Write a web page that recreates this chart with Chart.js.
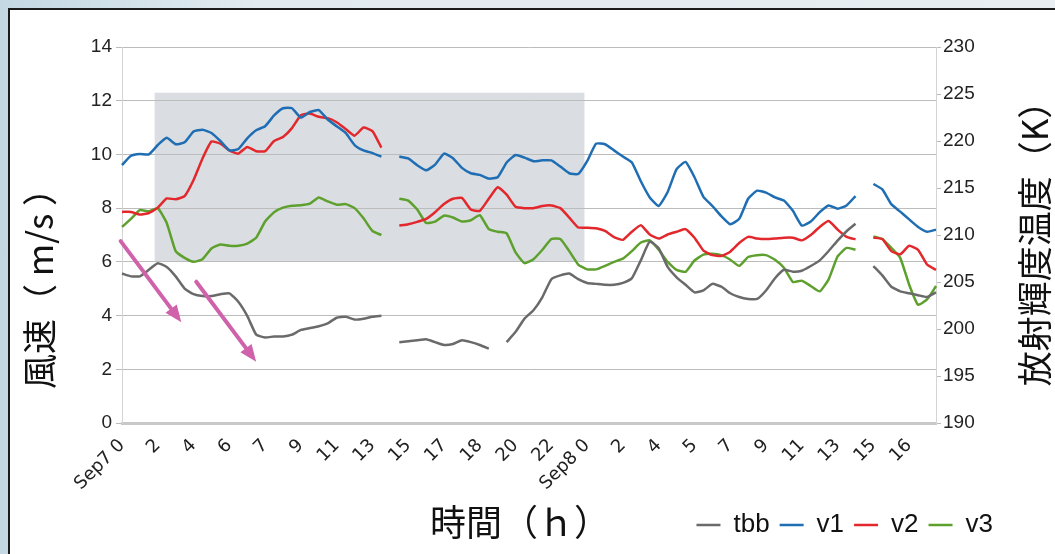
<!DOCTYPE html>
<html>
<head>
<meta charset="utf-8">
<script src="https://cdn.jsdelivr.net/npm/chart.js@4.4.1/dist/chart.umd.min.js"></script>
<style>
  html, body { margin: 0; padding: 0; }
  body {
    width: 1055px; height: 554px; overflow: hidden; position: relative;
    background: linear-gradient(to right, #c4d8e3 0%, #e2ebf0 25%, #e8eef2 100%);
  }
  #frame {
    position: absolute; left: 8px; top: 8px; width: 1100px; height: 600px;
    border: 2px solid #1c1c1c; background: #fff;
  }
  #chart { position: absolute; left: 0; top: 0; }
</style>
</head>
<body>
<div id="frame"></div>
<canvas id="chart" width="1055" height="554"></canvas>
<script>
// x axis: one tick label every 4 samples
const tickLabels = ['Sep7 0', '2', '4', '6', '7', '9', '11', '13', '15', '17', '18', '20', '22',
                    'Sep8 0', '2', '4', '5', '7', '9', '11', '13', '15', '16'];
const pointsPerTick = 4;

// 放射輝度温度 (K), right axis
const tbb = [205.9, 205.6, 205.6, 206.3, 207.0, 206.6, 205.6, 204.3, 203.7, 203.5,
             203.5, 203.7, 203.8, 202.9, 201.4, 199.4, 199.1, 199.2, 199.2, 199.4,
             199.9, 200.1, 200.3, 200.6, 201.2, 201.3, 201.0, 201.1, 201.3, 201.4,
             null, 198.6, 198.7, 198.8, 198.9, 198.6, 198.3, 198.4, 198.8, 198.6,
             198.3, 197.9, null, 198.6, 199.7, 201.1, 202.0, 203.4, 205.3, 205.7,
             205.9, 205.3, 204.9, 204.8, 204.7, 204.7, 204.9, 205.4, 207.3, 209.3,
             208.6, 206.6, 205.5, 204.7, 203.9, 204.1, 204.8, 204.5, 203.8, 203.4,
             203.2, 203.2, 204.1, 205.4, 206.3, 206.1, 206.2, 206.7, 207.3, 208.3,
             209.4, 210.4, 211.2, null, 206.7, 205.7, 204.5, 204.0, 203.8, 203.6,
             203.4, 203.9];

// 風速 (m/s), left axis
const v1 = [9.6, 9.95, 10.02, 10.0, 10.35, 10.62, 10.38, 10.45, 10.85, 10.92,
            10.8, 10.5, 10.15, 10.2, 10.6, 10.9, 11.05, 11.45, 11.72, 11.72,
            11.37, 11.58, 11.65, 11.3, 11.05, 10.8, 10.35, 10.15, 10.05, 9.92,
            null, 9.92, 9.85, 9.6, 9.41, 9.62, 10.03, 9.86, 9.5, 9.3,
            9.24, 9.1, 9.15, 9.7, 9.98, 9.88, 9.75, 9.78, 9.78, 9.55,
            9.3, 9.27, 9.75, 10.4, 10.38, 10.15, 9.92, 9.7, 9.0, 8.4,
            8.08, 8.6, 9.45, 9.72, 9.15, 8.42, 8.08, 7.7, 7.4, 7.6,
            8.35, 8.65, 8.58, 8.4, 8.28, 7.9, 7.35, 7.5, 7.85, 8.1,
            7.98, 8.1, 8.45, null, 8.9, 8.7, 8.15, 7.87, 7.58, 7.3,
            7.12, 7.2];

const v2 = [7.86, 7.86, 7.76, 7.82, 8.02, 8.36, 8.33, 8.45, 9.05, 9.85,
            10.48, 10.4, 10.15, 10.03, 10.28, 10.12, 10.12, 10.5, 10.65, 10.98,
            11.46, 11.52, 11.4, 11.35, 11.2, 10.95, 10.7, 11.0, 10.87, 10.25,
            null, 7.35, 7.4, 7.49, 7.6, 7.85, 8.15, 8.35, 8.38, 7.95,
            7.9, 8.35, 8.78, 8.5, 8.05, 8.0, 8.0, 8.08, 8.1, 8.0,
            7.65, 7.28, 7.27, 7.25, 7.15, 6.92, 6.82, 7.12, 7.36, 7.02,
            6.87, 7.02, 7.12, 7.22, 6.9, 6.42, 6.25, 6.22, 6.38, 6.7,
            6.93, 6.87, 6.85, 6.87, 6.9, 6.9, 6.8, 7.0, 7.3, 7.52,
            7.2, 6.93, 6.84, null, 6.9, 6.85, 6.4, 6.28, 6.6, 6.45,
            5.9, 5.7];

const v3 = [7.3, 7.6, 7.93, 7.88, 8.0, 7.45, 6.4, 6.15, 6.0, 6.1,
            6.5, 6.65, 6.6, 6.6, 6.68, 6.9, 7.5, 7.85, 8.02, 8.09,
            8.11, 8.17, 8.4, 8.25, 8.13, 8.15, 8.0, 7.62, 7.15, 7.0,
            null, 8.35, 8.28, 7.95, 7.45, 7.5, 7.72, 7.65, 7.5, 7.55,
            7.74, 7.22, 7.12, 7.06, 6.35, 5.95, 6.1, 6.45, 6.85, 6.85,
            6.4, 5.9, 5.72, 5.72, 5.85, 6.0, 6.12, 6.4, 6.72, 6.8,
            6.45, 6.0, 5.7, 5.63, 6.05, 6.27, 6.3, 6.25, 6.08, 5.85,
            6.18, 6.25, 6.25, 6.08, 5.78, 5.25, 5.3, 5.1, 4.9, 5.35,
            6.2, 6.52, 6.45, null, 6.95, 6.85, 6.52, 6.15, 5.15, 4.4,
            4.6, 5.1];

// shaded period and the two arrows, in data units (sample index, m/s)
const shadeX = [3.65, 51.7];
const shadeY = [6, 12.3];
const arrowFrom = [[-0.15, 6.77], [8.3, 5.26]];
const arrowTo = [[6.63, 3.75], [15.0, 2.28]];

const labels = tbb.map((_, i) => String(i));

function drawArrow(ctx, x1, y1, x2, y2) {
    const ang = Math.atan2(y2 - y1, x2 - x1);
    const head = 17, half = 7;
    const bx = x2 - head * Math.cos(ang);
    const by = y2 - head * Math.sin(ang);
    ctx.beginPath();
    ctx.moveTo(x1, y1);
    ctx.lineTo(bx, by);
    ctx.stroke();
    ctx.beginPath();
    ctx.moveTo(x2, y2);
    ctx.lineTo(bx + half * Math.sin(ang), by - half * Math.cos(ang));
    ctx.lineTo(bx - half * Math.sin(ang), by + half * Math.cos(ang));
    ctx.closePath();
    ctx.fill();
}

function drawRotated(ctx, text, x, y, angle, font) {
    ctx.save();
    ctx.translate(x, y);
    ctx.rotate(angle);
    ctx.font = font;
    ctx.fillStyle = '#111';
    ctx.textAlign = 'center';
    ctx.textBaseline = 'middle';
    ctx.fillText(text, 0, 0);
    ctx.restore();
}

const overlay = {
    id: 'overlay',
    beforeDraw(chart) {
        const { ctx, scales: { x, y } } = chart;
        const l = x.getPixelForValue(shadeX[0]), r = x.getPixelForValue(shadeX[1]);
        const t = y.getPixelForValue(shadeY[1]), b = y.getPixelForValue(shadeY[0]);
        ctx.save();
        ctx.fillStyle = '#dadee2';
        ctx.fillRect(l, t, r - l, b - t);
        ctx.restore();
    },
    afterDatasetsDraw(chart) {
        const { ctx, scales: { x, y } } = chart;
        ctx.save();
        ctx.strokeStyle = '#cf62ab';
        ctx.fillStyle = '#cf62ab';
        ctx.lineWidth = 4;
        ctx.lineCap = 'round';
        arrowFrom.forEach((p, k) => {
            drawArrow(ctx, x.getPixelForValue(p[0]), y.getPixelForValue(p[1]),
                      x.getPixelForValue(arrowTo[k][0]), y.getPixelForValue(arrowTo[k][1]));
        });
        ctx.restore();
    },
    afterDraw(chart) {
        const ctx = chart.ctx;
        const area = chart.chartArea;
        const cjk = '"Noto Sans CJK JP", sans-serif';
        drawRotated(ctx, '風速（ m/s ）', 40, 280, -Math.PI / 2, '35px ' + cjk);
        drawRotated(ctx, '放射輝度温度（K）', 1035, (area.top + area.bottom) / 2, -Math.PI / 2, '35px ' + cjk);
        drawRotated(ctx, '時間（ｈ）', 520, 522, 0, '36px ' + cjk);
    }
};

const tickFont = { family: 'Liberation Sans', size: 19 };

new Chart(document.getElementById('chart'), {
    type: 'line',
    data: {
        labels: labels,
        datasets: [
            { label: 'tbb', data: tbb, yAxisID: 'y1', borderColor: '#6a6a6a', backgroundColor: '#6a6a6a' },
            { label: 'v1', data: v1, yAxisID: 'y', borderColor: '#1f6db3', backgroundColor: '#1f6db3' },
            { label: 'v2', data: v2, yAxisID: 'y', borderColor: '#e2282c', backgroundColor: '#e2282c' },
            { label: 'v3', data: v3, yAxisID: 'y', borderColor: '#5ea02e', backgroundColor: '#5ea02e' }
        ]
    },
    options: {
        responsive: false,
        animation: false,
        datasets: { line: { borderWidth: 2.5, pointRadius: 0, tension: 0.15, spanGaps: false } },
        layout: { padding: { top: 47, right: 52, bottom: 6, left: 0 } },
        plugins: {
            tooltip: { enabled: false },
            legend: {
                position: 'bottom',
                align: 'end',
                labels: {
                    usePointStyle: true,
                    pointStyle: 'line',
                    pointStyleWidth: 24,
                    padding: 10,
                    color: '#111',
                    font: { family: 'Liberation Sans', size: 26 }
                }
            }
        },
        scales: {
            x: {
                grid: { display: false },
                border: { display: true, color: '#c8c8c8', width: 3 },
                ticks: {
                    autoSkip: false,
                    maxRotation: 45,
                    minRotation: 45,
                    padding: 4,
                    color: '#222',
                    font: { family: 'DejaVu Sans', size: 18 },
                    callback: (value, index) => index % pointsPerTick === 0 ? tickLabels[index / pointsPerTick] : null
                },
                afterFit: scale => { scale.height = 79; }
            },
            y: {
                position: 'left',
                min: 0,
                max: 14,
                ticks: { stepSize: 2, padding: 4, color: '#222', font: tickFont },
                grid: { color: '#bcbcbc', tickLength: 6 },
                border: { color: '#d4d4d4' },
                afterFit: scale => { scale.width = 122; }
            },
            y1: {
                position: 'right',
                min: 190,
                max: 230,
                ticks: { stepSize: 5, padding: 2, color: '#222', font: tickFont },
                grid: { drawOnChartArea: false, color: '#bcbcbc', tickLength: 5 },
                border: { color: '#d4d4d4' },
                afterFit: scale => { scale.width = 67; }
            }
        }
    },
    plugins: [overlay]
});
</script>
</body>
</html>
